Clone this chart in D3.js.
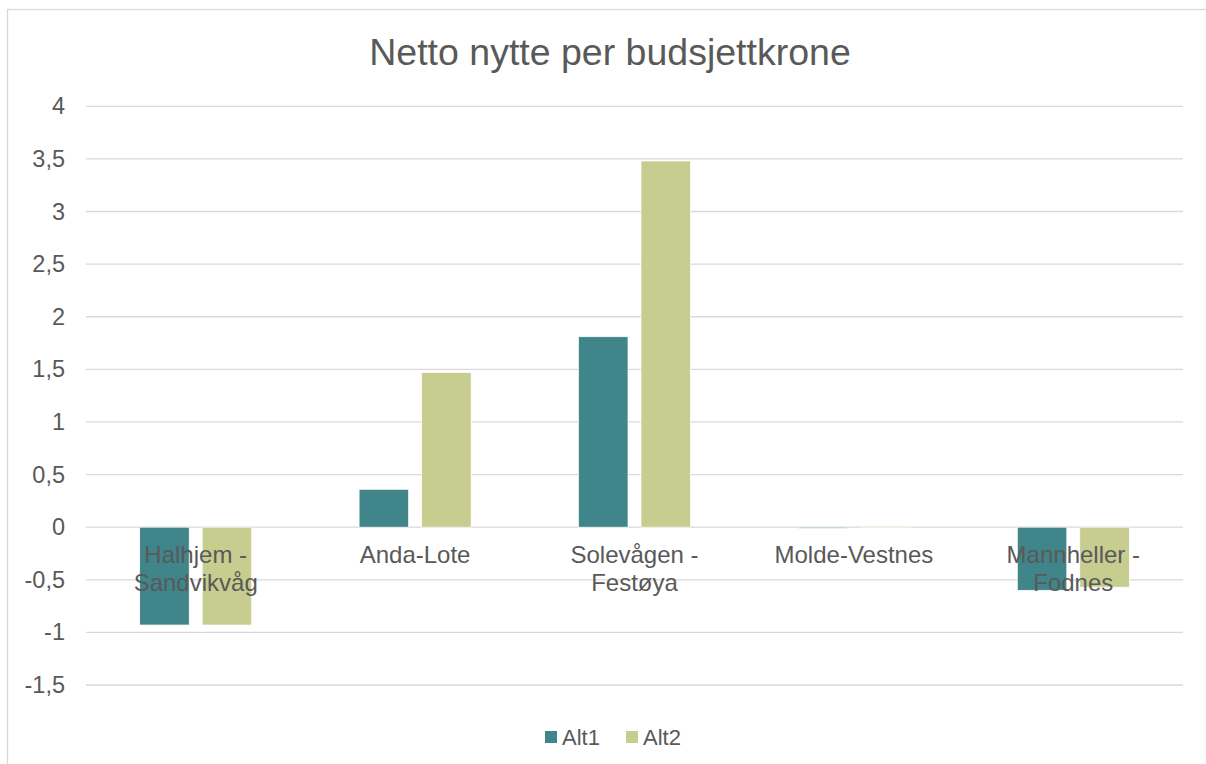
<!DOCTYPE html>
<html>
<head>
<meta charset="utf-8">
<script src="https://cdn.jsdelivr.net/npm/d3@7"></script>
<style>
  html, body { margin: 0; padding: 0; background: #fff; }
  svg { display: block; font-family: "Liberation Sans", Arial, sans-serif; }
</style>
</head>
<body>
<svg id="chart" width="1206" height="764"></svg>
<script>
const title = "Netto nytte per budsjettkrone";
const categories = [["Halhjem -", "Sandvikvåg"], ["Anda-Lote"], ["Solevågen -", "Festøya"], ["Molde-Vestnes"], ["Mannheller -", "Fodnes"]];
const seriesNames = ["Alt1", "Alt2"];
const alt1 = [-0.93, 0.36, 1.81, -0.01, -0.60];
const alt2 = [-0.93, 1.47, 3.48, 0.01, -0.57];
const yTicks = [-1.5, -1, -0.5, 0, 0.5, 1, 1.5, 2, 2.5, 3, 3.5, 4];
const colors = ["#3f858a", "#c7cc8f"];

const svg = d3.select("#chart");
const plot = { left: 86, right: 1183, top: 106.3, bottom: 685 };

// chart border
svg.append("rect").attr("x", 7.5).attr("y", 9.5).attr("width", 1230).attr("height", 800)
  .attr("fill", "none").attr("stroke", "#d9d9d9").attr("stroke-width", 1.3);

const y = d3.scaleLinear().domain([-1.5, 4]).range([plot.bottom, plot.top]);
const catIdx = categories.map((c, i) => i);
const x0 = d3.scaleBand().domain(catIdx).range([plot.left, plot.right]).paddingInner(0).paddingOuter(0);
const groupW = 112;
const off = (x0.bandwidth() - groupW) / 2;
const x1 = d3.scaleBand().domain(seriesNames).range([off, off + groupW]).paddingInner(0.208);

const fmt = v => String(v).replace(".", ",");

// gridlines
svg.append("g").selectAll("line").data(yTicks).join("line")
  .attr("x1", plot.left).attr("x2", plot.right)
  .attr("y1", d => y(d)).attr("y2", d => y(d))
  .attr("stroke", "#d9d9d9").attr("stroke-width", 1.3);

// y axis labels
const yAxis = d3.axisLeft(y).tickValues(yTicks).tickFormat(fmt).tickSize(0).tickPadding(0);
const yg = svg.append("g").attr("transform", `translate(${plot.left - 21},0)`).call(yAxis);
yg.select(".domain").remove();
yg.selectAll("text").attr("fill", "#595959").attr("font-size", "23.5px")
  .attr("font-family", "'Liberation Sans', Arial, sans-serif");

// bars
const data = [];
categories.forEach((c, i) => {
  data.push({ i, s: "Alt1", v: alt1[i] });
  data.push({ i, s: "Alt2", v: alt2[i] });
});
svg.append("g").selectAll("rect").data(data).join("rect")
  .attr("x", d => x0(d.i) + x1(d.s))
  .attr("width", x1.bandwidth())
  .attr("y", d => Math.min(y(0), y(d.v)))
  .attr("height", d => Math.max(1, Math.abs(y(d.v) - y(0))))
  .attr("fill", d => colors[seriesNames.indexOf(d.s)])
  .attr("stroke", "#ffffff").attr("stroke-width", 0.7);

// category labels
const cg = svg.append("g");
categories.forEach((lines, i) => {
  const cx = x0(i) + x0.bandwidth() / 2;
  const t = cg.append("text")
    .attr("x", cx)
    .attr("y", y(0) + 36)
    .attr("text-anchor", "middle")
    .attr("fill", "#595959").attr("font-size", "24px");
  lines.forEach((ln, k) => {
    t.append("tspan").attr("x", cx).attr("dy", k === 0 ? 0 : 28).text(ln);
  });
});

// title
svg.append("text").attr("x", 610).attr("y", 65).attr("text-anchor", "middle")
  .attr("fill", "#595959").attr("font-size", "37.5px").text(title);

// legend
const leg = svg.append("g");
const legX = [545, 626];
seriesNames.forEach((s, k) => {
  leg.append("rect").attr("x", legX[k]).attr("y", 731).attr("width", 12).attr("height", 12).attr("fill", colors[k]);
  leg.append("text").attr("x", legX[k] + 17).attr("y", 745).attr("fill", "#595959")
    .attr("font-size", "22px").text(s);
});
</script>
</body>
</html>
